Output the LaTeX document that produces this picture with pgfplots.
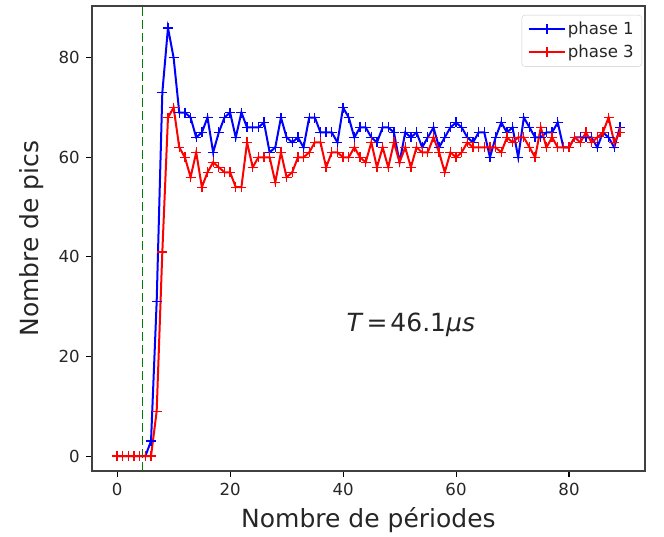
\documentclass[border=0pt]{standalone}
\usepackage{fontspec}
\setmainfont{DejaVu Sans}
\usepackage{pgfplots}
\pgfplotsset{compat=1.18}

\definecolor{mplgreen}{rgb}{0,0.5,0}

\begin{document}
\begin{tikzpicture}
\useasboundingbox (-92pt,-66pt) rectangle (572pt,471pt);
\begin{axis}[
  at={(0pt,0pt)}, anchor=south west,
  width=553pt, height=465pt, scale only axis,
  xmin=-4.45, xmax=93.45, ymin=-3, ymax=90.4,
  xtick={0,20,40,60,80}, ytick={0,20,40,60,80},
  xtick pos=left, ytick pos=left,
  tick align=outside, major tick length=6pt,
  tick style={black, line width=1.1pt},
  axis line style={black!75, line width=1.1pt},
  /pgf/number format/assume math mode=true,
  ticklabel style={font=\fontsize{16.6}{20}\selectfont, text=black!85},
  xticklabel style={inner sep=0pt, yshift=-6pt},
  yticklabel style={inner sep=0pt, xshift=-6pt},
  xlabel={Nombre de périodes},
  ylabel={Nombre de pics},
  label style={font=\fontsize{25}{30}\selectfont, text=black!85},
  xlabel style={at={(axis description cs:0.5,-0.105)}, anchor=center},
  ylabel style={at={(axis description cs:-0.11,0.5)}, anchor=center},
  legend style={at={(1,1)}, anchor=north east, xshift=-3pt, yshift=-9pt,
    draw=black!20, rounded corners=3pt, fill=white, fill opacity=0.8,
    text opacity=1, font=\fontsize{16.6}{20}\selectfont, text=black!85,
    inner xsep=6pt, inner ysep=5pt, row sep=5pt},
  legend cell align=left,
  legend image code/.code={%
    \draw[mark repeat=2, mark phase=2] plot coordinates {(0pt,0pt) (18pt,0pt) (36pt,0pt)};},
  every axis plot/.append style={line width=2pt, mark=+, mark size=5pt,
    mark options={line width=1.3pt, solid}},
]

% onset of the excitation
\addplot[mplgreen, line width=1.8pt, dash pattern=on 9pt off 4pt, mark=none, forget plot]
  coordinates {(4.5,-3) (4.5,90.4)};

\addplot[blue] coordinates {
(0,0) (1,0) (2,0) (3,0) (4,0) (5,0) (6,3) (7,31) (8,73) (9,86)
(10,80) (11,69) (12,69) (13,68) (14,64) (15,65) (16,68) (17,61) (18,65) (19,68)
(20,69) (21,64) (22,69) (23,66) (24,66) (25,66) (26,67) (27,61) (28,62) (29,68)
(30,64) (31,63) (32,64) (33,62) (34,68) (35,68) (36,65) (37,65) (38,65) (39,63)
(40,70) (41,68) (42,64) (43,66) (44,66) (45,64) (46,63) (47,66) (48,66) (49,65)
(50,59) (51,65) (52,64) (53,65) (54,62) (55,64) (56,66) (57,62) (58,64) (59,66)
(60,67) (61,66) (62,64) (63,63) (64,65) (65,65) (66,60) (67,64) (68,67) (69,65)
(70,66) (71,60) (72,68) (73,66) (74,64) (75,64) (76,65) (77,65) (78,67) (79,62)
(80,62) (81,64) (82,64) (83,64) (84,64) (85,62) (86,65) (87,64) (88,62) (89,66)
};
\addlegendentry{phase 1}

\addplot[red] coordinates {
(0,0) (1,0) (2,0) (3,0) (4,0) (5,0) (6,0) (7,9) (8,41) (9,68)
(10,70) (11,62) (12,60) (13,56) (14,61) (15,54) (16,57) (17,59) (18,58) (19,57)
(20,57) (21,54) (22,54) (23,63) (24,58) (25,60) (26,60) (27,60) (28,55) (29,61)
(30,56) (31,57) (32,60) (33,60) (34,61) (35,63) (36,63) (37,58) (38,61) (39,61)
(40,60) (41,60) (42,62) (43,60) (44,59) (45,63) (46,58) (47,62) (48,58) (49,63)
(50,59) (51,62) (52,58) (53,62) (54,61) (55,61) (56,64) (57,61) (58,57) (59,61)
(60,60) (61,61) (62,63) (63,62) (64,62) (65,62) (66,62) (67,62) (68,61) (69,64)
(70,63) (71,64) (72,64) (73,62) (74,60) (75,66) (76,62) (77,64) (78,62) (79,62)
(80,62) (81,64) (82,63) (83,65) (84,63) (85,64) (86,65) (87,68) (88,63) (89,65)
};
\addlegendentry{phase 3}

\node[anchor=base west, font=\fontsize{25}{30}\selectfont, text=black!85]
  at (axis cs:40,25) {\textit{T}\hspace{0.12em}=\hspace{0.12em}46.1\textit{μs}};
\end{axis}
\end{tikzpicture}
\end{document}
